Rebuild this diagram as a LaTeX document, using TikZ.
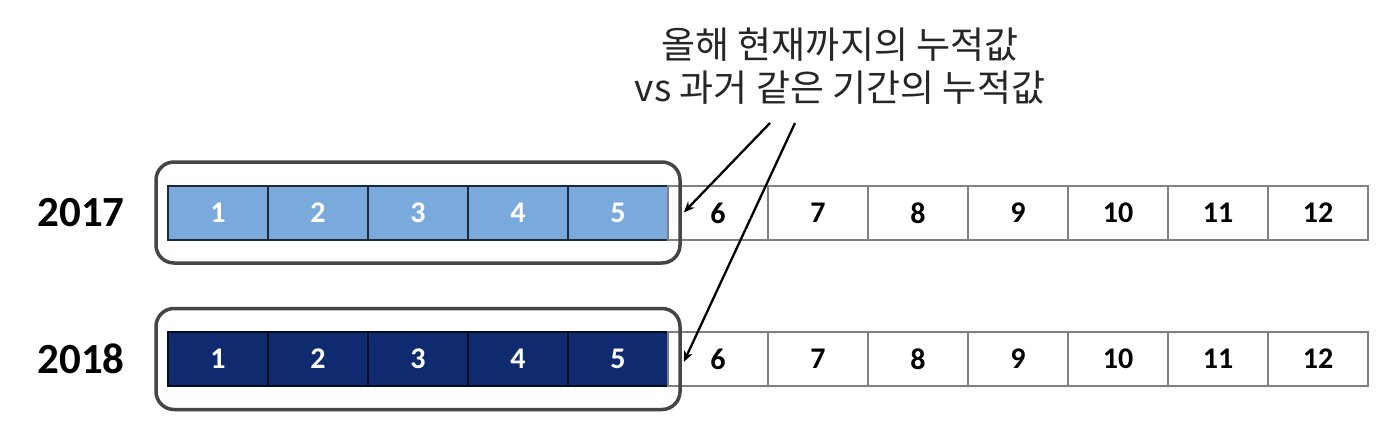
\documentclass[tikz,border=0pt]{standalone}
\usepackage{fontspec}
\setmainfont{Carlito}
\newfontfamily\kofont{Noto Sans CJK KR}
\usetikzlibrary{arrows.meta}
\definecolor{lightcell}{HTML}{7AAADC}
\definecolor{darkcell}{HTML}{0F2A6E}
\definecolor{boxgray}{HTML}{454545}
\definecolor{cellline}{HTML}{808080}
\definecolor{txtgray}{HTML}{262626}
\tikzset{
  cell/.style={draw=cellline, line width=1.5pt, minimum width=100pt, minimum height=54pt, inner sep=0pt, font=\bfseries\fontsize{30}{30}\selectfont},
  lightc/.style={cell, fill=lightcell, draw=black!75!lightcell, text=white},
  darkc/.style={cell, fill=darkcell, draw=black!70!darkcell, text=white},
  whitec/.style={cell, fill=white, text=black},
  roundbox/.style={draw=boxgray, line width=3.5pt, rounded corners=18pt, minimum width=524pt, minimum height=101pt, inner sep=0pt},
  year/.style={font=\bfseries\fontsize{43}{43}\selectfont, text=black},
  ptr/.style={-{Stealth[length=11pt,width=9pt]}, line width=2.3pt, black},
}
\begin{document}
\begin{tikzpicture}[x=1pt,y=-1pt]
\useasboundingbox[fill=white] (0,0) rectangle (1378,426);
% cells
\foreach \i in {1,...,12}{
  \pgfmathsetmacro{\cx}{168+50+(\i-1)*100}
  \ifnum\i<6
    \node[lightc] (a\i) at (\cx,213) {\i};
    \node[darkc] (b\i) at (\cx,359) {\i};
  \else
    \node[whitec] (a\i) at (\cx,213) {\i};
    \node[whitec] (b\i) at (\cx,359) {\i};
  \fi
}
% rounded boxes
\node[roundbox] (box1) at (418,212.5) {};
\node[roundbox] (box2) at (418,359) {};
% years
\node[year] (y17) at (81,213) {2017};
\node[year] (y18) at (81,359) {2018};
% title
\node[text=txtgray, align=center, font=\kofont\fontsize{37}{43}\selectfont] (title) at (840,66) {올해 현재까지의 누적값\\vs 과거 같은 기간의 누적값};
% arrows
\coordinate (s1) at (770,123);
\coordinate (s2) at (795,123);
\draw[ptr] (s1) -- ([xshift=2pt]box1.east);
\draw[ptr] (s2) -- ([xshift=2pt,yshift=-3pt]box2.east);
\end{tikzpicture}
\end{document}
